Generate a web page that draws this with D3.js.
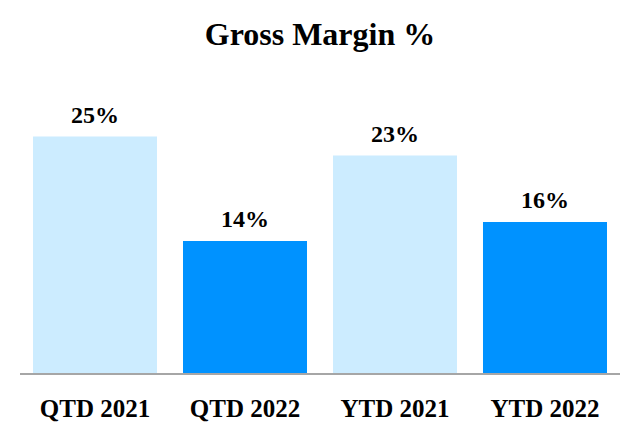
<!DOCTYPE html>
<html>
<head>
<meta charset="utf-8">
<script src="https://cdn.jsdelivr.net/npm/d3@7"></script>
<style>
  html, body { margin: 0; padding: 0; background: #fff; }
  svg { display: block; }
</style>
</head>
<body>
<svg id="chart" width="640" height="440"></svg>
<script>
const categories = ["QTD 2021", "QTD 2022", "YTD 2021", "YTD 2022"];
const values = [25, 14, 23, 16];
const valueLabels = ["25%", "14%", "23%", "16%"];
const colors = ["#CCECFF", "#0092FF", "#CCECFF", "#0092FF"];
const title = "Gross Margin %";

const svg = d3.select("#chart");
const font = "'Liberation Serif', 'Times New Roman', serif";

const x = d3.scaleBand()
  .domain(categories)
  .range([20, 620])
  .paddingInner(0.1733)
  .paddingOuter(0.0867);

const y = d3.scaleLinear().domain([0, 30]).range([374, 89]);

svg.append("text")
  .attr("x", 320).attr("y", 45)
  .attr("text-anchor", "middle")
  .style("font-family", font)
  .style("font-weight", "bold")
  .style("font-size", "32px")
  .attr("fill", "#000")
  .text(title);

svg.selectAll("rect.bar")
  .data(values)
  .join("rect")
  .attr("class", "bar")
  .attr("x", (d, i) => x(categories[i]))
  .attr("width", x.bandwidth())
  .attr("y", d => y(d))
  .attr("height", d => y(0) - y(d))
  .attr("fill", (d, i) => colors[i]);

svg.selectAll("text.val")
  .data(values)
  .join("text")
  .attr("class", "val")
  .attr("x", (d, i) => x(categories[i]) + x.bandwidth() / 2)
  .attr("y", d => y(d) - 14)
  .attr("text-anchor", "middle")
  .style("font-family", font)
  .style("font-weight", "bold")
  .style("font-size", "24px")
  .attr("fill", "#000")
  .text((d, i) => valueLabels[i]);

const axis = d3.axisBottom(x).tickSize(0).tickPadding(0);
const g = svg.append("g").attr("transform", `translate(0,${y(0)})`).call(axis);
g.select(".domain").attr("stroke", "#a6a6a6").attr("stroke-width", 2)
  .attr("d", "M20,0H620");
g.selectAll(".tick text")
  .attr("dy", 0)
  .attr("y", 43)
  .style("font-family", font)
  .style("font-weight", "bold")
  .style("font-size", "25px")
  .attr("fill", "#000");
</script>
</body>
</html>
